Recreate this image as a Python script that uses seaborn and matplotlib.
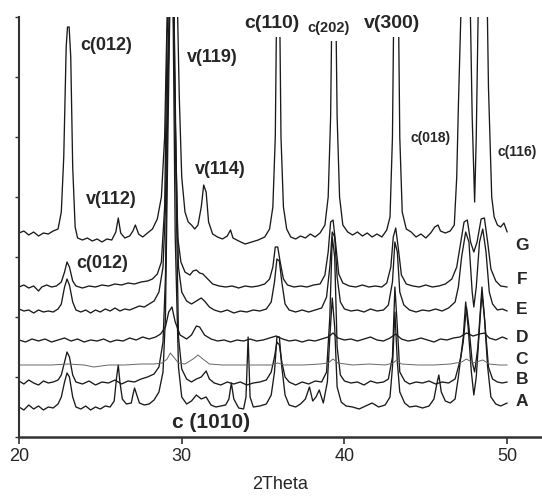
import matplotlib
matplotlib.use("Agg")
import matplotlib.pyplot as plt
import seaborn as sns
import numpy as np

# ---- data (2Theta, intensity a.u.; each pattern already offset) ----
xA = [20.0, 20.3, 20.6, 20.9, 21.2, 21.5, 21.8, 22.1, 22.4, 22.6, 22.8, 22.95, 23.1, 23.3, 23.5, 23.8, 24.1, 24.4, 24.7, 25.0,
      25.3, 25.6, 25.85, 26.0, 26.1, 26.2, 26.35, 26.6, 26.9, 27.0, 27.1, 27.2, 27.4, 27.7, 28.0, 28.3, 28.6, 28.85, 29.0, 29.15,
      29.3, 29.45, 29.6, 29.8, 30.0, 30.3, 30.6, 30.9, 31.2, 31.5, 31.8, 32.1, 32.4, 32.7, 32.9, 33.05, 33.2, 33.5, 33.8, 33.95,
      34.08, 34.2, 34.4, 34.8, 35.2, 35.5, 35.7, 35.85, 36.0, 36.15, 36.35, 36.6, 37.0, 37.3, 37.6, 37.85, 38.05, 38.25, 38.45, 38.7,
      38.95, 39.1, 39.25, 39.4, 39.55, 39.8, 40.1, 40.5, 40.9, 41.3, 41.7, 42.1, 42.5, 42.8, 42.95, 43.1, 43.25, 43.4, 43.7, 44.0,
      44.4, 44.8, 45.2, 45.5, 45.7, 45.8, 45.95, 46.2, 46.5, 46.8, 47.0, 47.15, 47.3, 47.45, 47.6, 47.8, 47.95, 48.1, 48.3, 48.45,
      48.6, 48.8, 49.0, 49.3, 49.6, 50.0]
yA = [30, 27, 32, 28, 31, 27, 30, 29, 33, 40, 55, 64, 60, 40, 30, 28, 31, 27, 30, 28,
      31, 30, 36, 60, 72, 55, 38, 33, 34, 42, 49, 44, 34, 32, 33, 37, 45, 65, 120, 300,
      460, 460, 200, 70, 40, 33, 36, 42, 38, 40, 32, 30, 31, 32, 38, 54, 38, 29, 28, 40,
      100, 40, 30, 31, 33, 42, 65, 100, 100, 70, 42, 32, 30, 33, 38, 50, 36, 40, 47, 34,
      55, 100, 139, 110, 50, 35, 31, 30, 28, 31, 34, 30, 32, 40, 70, 125, 75, 45, 34, 30,
      31, 29, 31, 38, 55, 62, 45, 36, 34, 38, 60, 80, 100, 135, 110, 65, 42, 60, 110, 144,
      120, 70, 40, 33, 31, 34]

xB = [20.0, 20.3, 20.6, 20.9, 21.2, 21.5, 21.8, 22.1, 22.4, 22.6, 22.8, 22.95, 23.1, 23.3, 23.5, 23.9, 24.3, 24.7, 25.1, 25.5,
      25.9, 26.3, 26.7, 27.1, 27.5, 27.9, 28.3, 28.6, 28.85, 29.0, 29.15, 29.3, 29.5, 29.65, 29.8, 30.0, 30.3, 30.6, 30.9, 31.2,
      31.5, 31.7, 32.0, 32.4, 32.8, 33.2, 33.6, 34.0, 34.4, 34.8, 35.2, 35.5, 35.7, 35.85, 36.0, 36.15, 36.35, 36.6, 37.0, 37.4,
      37.8, 38.2, 38.6, 38.9, 39.1, 39.25, 39.4, 39.55, 39.75, 40.0, 40.4, 40.8, 41.2, 41.6, 42.0, 42.4, 42.7, 42.95, 43.1, 43.25,
      43.4, 43.7, 44.0, 44.4, 44.8, 45.2, 45.6, 46.0, 46.4, 46.8, 47.0, 47.15, 47.3, 47.5, 47.65, 47.85, 48.0, 48.2, 48.45, 48.65,
      48.85, 49.1, 49.4, 49.7, 50.0]
yB = [56, 53, 57, 54, 52, 56, 54, 55, 57, 62, 75, 85, 80, 62, 55, 53, 56, 52, 55, 54,
      57, 53, 56, 55, 58, 60, 63, 70, 95, 160, 350, 460, 460, 250, 100, 68, 58, 55, 58, 60,
      66, 58, 54, 52, 55, 53, 55, 52, 54, 55, 57, 65, 80, 95, 92, 75, 60, 55, 52, 55,
      53, 56, 55, 65, 120, 200, 180, 90, 62, 56, 54, 55, 52, 56, 54, 55, 58, 80, 150, 110,
      65, 56, 53, 55, 54, 56, 53, 55, 54, 58, 70, 80, 95, 130, 110, 75, 65, 90, 150, 110,
      70, 58, 55, 54, 55]

xC = [20.0, 21.0, 22.0, 23.0, 24.0, 24.6, 25.5, 26.5, 27.5, 28.3, 28.8, 29.1, 29.3, 29.5, 29.8, 30.2, 30.7, 31.0, 31.3, 31.7,
      32.5, 33.5, 34.5, 35.5, 35.9, 36.3, 37.5, 38.5, 39.0, 39.3, 39.6, 40.5, 41.5, 42.5, 43.0, 43.2, 43.5, 44.5, 45.5, 46.5,
      47.2, 47.5, 47.9, 48.5, 48.9, 49.5, 50.0]
yC = [72, 72, 72, 73, 72, 70, 72, 72, 73, 73, 74, 78, 84, 80, 74, 73, 78, 82, 78, 73,
      72, 72, 72, 72, 74, 72, 72, 73, 74, 78, 74, 72, 73, 72, 74, 77, 73, 72, 72, 73,
      75, 78, 74, 77, 73, 72, 72]

xD = [20.0, 20.4, 20.8, 21.2, 21.6, 22.0, 22.4, 22.8, 23.2, 23.6, 24.0, 24.4, 24.8, 25.2, 25.6, 26.0, 26.4, 26.8, 27.2, 27.6,
      28.0, 28.4, 28.7, 29.0, 29.2, 29.4, 29.6, 29.9, 30.3, 30.6, 30.9, 31.1, 31.4, 31.8, 32.2, 32.6, 33.0, 33.4, 33.8, 34.2,
      34.6, 35.0, 35.4, 35.8, 36.2, 36.6, 37.0, 37.4, 37.8, 38.2, 38.6, 39.0, 39.3, 39.6, 40.0, 40.4, 40.8, 41.2, 41.6, 42.0,
      42.4, 42.8, 43.15, 43.5, 43.9, 44.3, 44.7, 45.1, 45.5, 45.9, 46.3, 46.7, 47.1, 47.5, 47.9, 48.3, 48.6, 48.9, 49.3, 49.7,
      50.0]
yD = [97, 95, 98, 96, 98, 95, 97, 99, 96, 98, 95, 97, 96, 98, 95, 97, 96, 99, 97, 100,
      98, 100, 103, 110, 125, 130, 115, 102, 98, 102, 111, 110, 102, 98, 96, 97, 95, 97, 96, 98,
      96, 97, 99, 101, 98, 96, 97, 95, 97, 96, 98, 100, 104, 99, 97, 98, 96, 98, 100, 97,
      96, 99, 103, 98, 96, 97, 99, 97, 95, 98, 97, 99, 100, 104, 101, 103, 104, 99, 97, 100,
      98]

xE = [20.0, 20.3, 20.6, 20.9, 21.2, 21.5, 21.8, 22.1, 22.4, 22.6, 22.8, 22.95, 23.1, 23.3, 23.5, 23.8, 24.1, 24.4, 24.7, 25.0,
      25.3, 25.6, 25.9, 26.2, 26.5, 26.8, 27.1, 27.4, 27.7, 28.0, 28.3, 28.6, 28.85, 29.0, 29.15, 29.3, 29.5, 29.65, 29.8, 30.0,
      30.3, 30.6, 30.9, 31.2, 31.4, 31.7, 32.0, 32.4, 32.8, 33.2, 33.6, 34.0, 34.4, 34.8, 35.2, 35.5, 35.7, 35.85, 36.0, 36.15,
      36.35, 36.6, 37.0, 37.4, 37.8, 38.2, 38.6, 38.9, 39.1, 39.25, 39.4, 39.55, 39.75, 40.0, 40.4, 40.8, 41.2, 41.6, 42.0, 42.4,
      42.7, 42.95, 43.1, 43.25, 43.4, 43.65, 44.0, 44.4, 44.8, 45.2, 45.6, 46.0, 46.4, 46.8, 47.0, 47.2, 47.45, 47.65, 47.85, 47.95,
      48.1, 48.3, 48.5, 48.7, 48.9, 49.1, 49.4, 49.7, 50.0]
yE = [128, 126, 127, 124, 127, 125, 126, 125, 128, 133, 150, 158, 152, 135, 127, 125, 127, 124, 127, 125,
      128, 126, 129, 126, 128, 127, 129, 131, 130, 133, 136, 145, 170, 230, 380, 460, 460, 280, 170, 145,
      136, 133, 136, 139, 136, 130, 127, 125, 127, 124, 126, 125, 127, 126, 128, 135, 155, 178, 176, 155,
      133, 127, 125, 127, 125, 127, 129, 140, 170, 205, 200, 160, 135, 128, 126, 127, 125, 128, 126, 127,
      132, 155, 195, 185, 145, 132, 127, 125, 127, 126, 128, 126, 129, 135, 150, 180, 205, 195, 145, 130,
      150, 195, 208, 185, 145, 133, 127, 128, 126]

xF = [20.0, 20.3, 20.6, 20.9, 21.2, 21.4, 21.7, 22.0, 22.3, 22.6, 22.8, 22.95, 23.1, 23.3, 23.5, 23.9, 24.3, 24.7, 25.1, 25.5,
      25.9, 26.3, 26.7, 27.1, 27.5, 27.9, 28.2, 28.5, 28.75, 28.95, 29.1, 29.25, 29.45, 29.6, 29.75, 29.95, 30.2, 30.5, 30.7, 30.9,
      31.1, 31.3, 31.6, 31.9, 32.3, 32.7, 33.1, 33.5, 33.9, 34.3, 34.7, 35.1, 35.4, 35.6, 35.75, 35.9, 36.05, 36.25, 36.5, 36.9,
      37.3, 37.7, 38.1, 38.5, 38.8, 39.0, 39.15, 39.3, 39.45, 39.65, 39.9, 40.3, 40.7, 41.1, 41.5, 41.9, 42.3, 42.6, 42.85, 43.0,
      43.15, 43.3, 43.5, 43.8, 44.2, 44.6, 45.0, 45.4, 45.8, 46.2, 46.6, 46.9, 47.1, 47.35, 47.55, 47.75, 47.95, 48.15, 48.4, 48.6,
      48.8, 49.0, 49.3, 49.6, 50.0]
yF = [150, 152, 149, 151, 146, 150, 152, 150, 151, 155, 165, 175, 170, 156, 151, 149, 151, 150, 152, 151,
      153, 152, 154, 153, 155, 156, 158, 163, 175, 230, 400, 460, 460, 320, 200, 175, 165, 162, 166, 167,
      164, 163, 158, 153, 151, 150, 151, 149, 151, 150, 151, 153, 158, 170, 190, 190, 175, 158, 152, 150,
      151, 150, 152, 153, 162, 185, 215, 217, 195, 163, 154, 151, 150, 152, 150, 151, 150, 154, 170, 200,
      209, 190, 162, 153, 151, 150, 152, 150, 151, 153, 158, 170, 190, 215, 217, 195, 185, 195, 218, 219,
      195, 168, 156, 151, 150]

xG = [20.0, 20.3, 20.6, 20.9, 21.2, 21.5, 21.8, 22.1, 22.4, 22.6, 22.75, 22.9, 22.98, 23.08, 23.18, 23.3, 23.45, 23.6, 23.9, 24.2,
      24.5, 24.8, 25.1, 25.4, 25.7, 25.95, 26.1, 26.25, 26.5, 26.8, 27.0, 27.15, 27.35, 27.6, 27.9, 28.2, 28.5, 28.75, 28.95, 29.1,
      29.25, 29.7, 29.85, 30.0, 30.2, 30.4, 30.6, 30.8, 31.0, 31.2, 31.35, 31.5, 31.65, 31.9, 32.2, 32.5, 32.8, 33.0, 33.15, 33.5,
      33.9, 34.3, 34.7, 35.1, 35.4, 35.6, 35.75, 35.85, 36.0, 36.1, 36.25, 36.45, 36.7, 37.0, 37.3, 37.6, 37.9, 38.2, 38.5, 38.8,
      39.0, 39.15, 39.25, 39.45, 39.55, 39.7, 39.9, 40.2, 40.5, 40.8, 41.1, 41.4, 41.7, 42.0, 42.3, 42.6, 42.8, 42.95, 43.05, 43.3,
      43.4, 43.55, 43.8, 44.1, 44.4, 44.7, 45.0, 45.3, 45.55, 45.75, 45.9, 46.2, 46.5, 46.75, 46.9, 47.0, 47.15, 47.3, 47.7, 47.85,
      48.0, 48.1, 48.25, 48.75, 48.85, 49.05, 49.2, 49.4, 49.6, 49.8, 50.0]
yG = [204, 206, 202, 205, 201, 204, 203, 206, 208, 225, 280, 390, 410, 410, 380, 270, 210, 199, 197, 199,
      196, 198, 195, 198, 197, 205, 219, 204, 199, 201, 206, 212, 203, 200, 204, 208, 218, 240, 300, 420,
      460, 460, 340, 260, 225, 215, 212, 208, 212, 230, 252, 245, 215, 203, 200, 198, 201, 207, 199, 196,
      193, 195, 197, 200, 208, 230, 300, 460, 460, 300, 230, 208, 200, 198, 201, 199, 203, 200, 204, 212,
      240, 320, 460, 460, 320, 240, 212, 205, 202, 205, 201, 204, 200, 203, 200, 207, 220, 300, 460, 460,
      300, 225, 208, 205, 200, 203, 199, 204, 210, 212, 206, 204, 206, 212, 260, 330, 420, 460, 460, 320,
      235, 300, 460, 460, 350, 240, 220, 212, 210, 214, 205]

curves = [("A", xA, yA), ("B", xB, yB), ("C", xC, yC), ("D", xD, yD),
          ("E", xE, yE), ("F", xF, yF), ("G", xG, yG)]
labels = ["G", "F", "E", "D", "C", "B", "A"]
label_y = [192, 158, 127, 100, 77, 57, 35]
xticks = [20, 30, 40, 50]

sns.set_style("ticks")
plt.rcParams['font.family'] = ['Liberation Sans', 'DejaVu Sans']

fig = plt.figure(figsize=(5.42, 4.97), dpi=100)
ax = fig.add_axes([19/542, 60/497, 523/542, 420/497])

for name, xs, ys in curves:
    if name == "C":
        sns.lineplot(x=xs, y=ys, ax=ax, color="#666666", lw=0.7, sort=False, estimator=None)
    else:
        sns.lineplot(x=xs, y=ys, ax=ax, color="#1a1a1a", lw=0.95, sort=False, estimator=None)

ax.set_xlim(20, 52.14)
ax.set_ylim(0, 420)
ax.set_xticks(xticks)
ax.set_xticklabels([str(t) for t in xticks], fontsize=13)
ax.set_yticks(np.arange(0, 421, 60))
ax.set_yticklabels([])
ax.tick_params(axis="x", direction="out", length=5, width=1.2, color="#333333", pad=3)
ax.tick_params(axis="y", direction="out", length=3, width=1.0, color="#333333")
for s in ["top", "right"]:
    ax.spines[s].set_visible(False)
ax.spines["left"].set_linewidth(1.5)
ax.spines["bottom"].set_linewidth(1.8)
ax.spines["left"].set_color("#333333")
ax.spines["bottom"].set_color("#333333")
ax.set_xlabel("2Theta", fontsize=13, labelpad=8)
ax.set_ylabel("")

wb = dict(facecolor="white", edgecolor="none", pad=4)
ann = [
    ("c(012)", 25.35, 392, 13, None),
    ("v(112)", 25.7, 237, 13, None),
    ("v(119)", 31.86, 380, 13, None),
    ("v(114)", 32.4, 267, 13, None),
    ("c(110)", 35.55, 414, 14, wb),
    ("c(202)", 39.05, 409, 10.5, wb),
    ("v(300)", 42.93, 414, 14, wb),
    ("c(018)", 45.3, 299, 10, None),
    ("c(116)", 50.6, 285, 10, None),
    ("c(012)", 25.1, 174, 13, None),
    ("c (1010)", 31.8, 15, 15, None),
]
for t, x, y, fs, bb in ann:
    ax.text(x, y, t, fontsize=fs, fontweight="bold", ha="center", va="center", bbox=bb, zorder=5)
for t, y in zip(labels, label_y):
    ax.text(50.9, y, t, fontsize=12.5, fontweight="bold", ha="center", va="center")

fig.savefig("out.png", dpi=100)
